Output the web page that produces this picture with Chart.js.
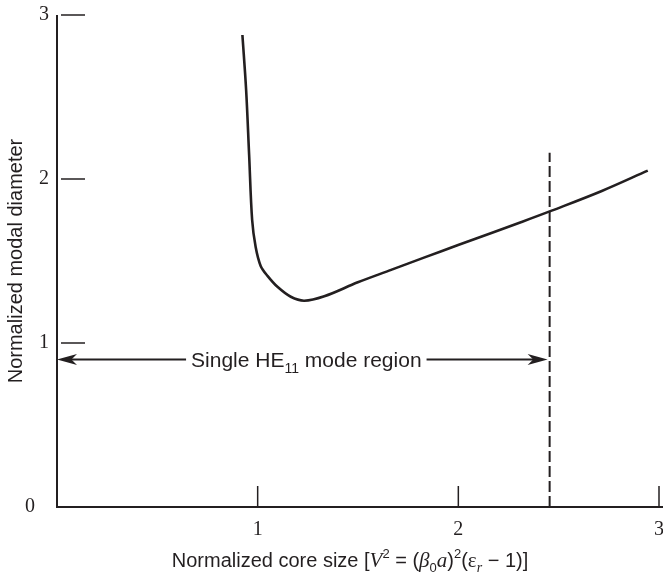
<!DOCTYPE html>
<html>
<head>
<meta charset="utf-8">
<script src="https://cdn.jsdelivr.net/npm/chart.js@4.4.0/dist/chart.umd.min.js"></script>
<style>
  html, body { margin: 0; padding: 0; background: #fff; }
  #wrap { width: 663px; height: 578px; }
</style>
</head>
<body>
<div id="wrap"><canvas id="chart" width="663" height="578"></canvas></div>
<script>
// modal diameter curve
const curveX = [0.924, 0.9425, 0.9575, 0.9725, 0.990, 1.015, 1.050, 1.100, 1.165, 1.232, 1.332, 1.499, 1.665, 1.832, 1.999, 2.165, 2.315, 2.465, 2.715, 2.944];
const curveY = [2.878, 2.543, 2.146, 1.750, 1.585, 1.470, 1.408, 1.341, 1.282, 1.258, 1.285, 1.370, 1.446, 1.522, 1.597, 1.671, 1.738, 1.807, 1.927, 2.051];

// single-mode cutoff (dashed)
const cutoffX = [2.455, 2.455];
const cutoffY = [0, 2.16];

const xTicks = [1, 2, 3];
const yTicks = [0, 1, 2, 3];

// arrow for the single mode region
const regionY = 0.9;
const regionFrom = 0;
const regionTo = 2.445;
const regionLabel = ['Single HE', '11', ' mode region'];

const yTitle = 'Normalized modal diameter';

const INK = '#231f20';
const SANS = "'Liberation Sans', Arial, sans-serif";
const SERIF = "'Liberation Serif', 'Times New Roman', serif";

// x title has super/subscripts, so draw it in runs
const xTitleRuns = [
  { t: 'Normalized core size [', font: `20px ${SANS}`, dy: 0 },
  { t: 'V', font: `italic 21px ${SERIF}`, dy: 0 },
  { t: '2', font: `13px ${SANS}`, dy: -9 },
  { t: ' = (', font: `20px ${SANS}`, dy: 0 },
  { t: 'β', font: `italic 21px ${SERIF}`, dy: 0 },
  { t: '0', font: `13px ${SANS}`, dy: 5 },
  { t: 'a', font: `italic 21px ${SERIF}`, dy: 0 },
  { t: ')', font: `20px ${SANS}`, dy: 0 },
  { t: '2', font: `13px ${SANS}`, dy: -9 },
  { t: '(', font: `20px ${SANS}`, dy: 0 },
  { t: 'ε', font: `21px ${SERIF}`, dy: 0 },
  { t: 'r', font: `italic 14px ${SERIF}`, dy: 5 },
  { t: ' − 1)]', font: `20px ${SANS}`, dy: 0 }
];

function drawRuns(ctx, runs, cx, base) {
  let total = 0;
  runs.forEach(r => { ctx.font = r.font; r.w = ctx.measureText(r.t).width; total += r.w; });
  let px = cx - total / 2;
  ctx.textAlign = 'left';
  ctx.textBaseline = 'alphabetic';
  runs.forEach(r => { ctx.font = r.font; ctx.fillText(r.t, px, base + r.dy); px += r.w; });
}

function arrowHead(ctx, tipX, tipY, dir) {
  const L = 20, H = 5.5;
  ctx.beginPath();
  ctx.moveTo(tipX, tipY);
  ctx.lineTo(tipX - dir * L, tipY - H);
  ctx.lineTo(tipX - dir * L * 0.72, tipY);
  ctx.lineTo(tipX - dir * L, tipY + H);
  ctx.closePath();
  ctx.fill();
}

const decor = {
  id: 'decor',
  afterDatasetsDraw(chart) {
    const { ctx, chartArea: a, scales: { x, y } } = chart;
    ctx.save();
    ctx.strokeStyle = INK;
    ctx.fillStyle = INK;

    // axis lines
    ctx.lineWidth = 2;
    ctx.beginPath();
    ctx.moveTo(a.left, y.getPixelForValue(3));
    ctx.lineTo(a.left, a.bottom);
    ctx.lineTo(a.right + 4, a.bottom);
    ctx.stroke();

    // ticks point into the plot
    ctx.lineWidth = 1.5;
    xTicks.forEach(v => {
      const px = x.getPixelForValue(v);
      ctx.beginPath(); ctx.moveTo(px, a.bottom); ctx.lineTo(px, a.bottom - 21); ctx.stroke();
    });
    yTicks.filter(v => v > 0).forEach(v => {
      const py = y.getPixelForValue(v);
      ctx.beginPath(); ctx.moveTo(a.left + 4, py); ctx.lineTo(a.left + 28, py); ctx.stroke();
    });

    // region arrow + label
    const ay = y.getPixelForValue(regionY);
    const ax0 = x.getPixelForValue(regionFrom);
    const ax1 = x.getPixelForValue(regionTo);
    const fMain = `21px ${SANS}`, fSub = `14px ${SANS}`;
    ctx.font = fMain; const w1 = ctx.measureText(regionLabel[0]).width;
    ctx.font = fSub; const w2 = ctx.measureText(regionLabel[1]).width;
    ctx.font = fMain; const w3 = ctx.measureText(regionLabel[2]).width;
    const tw = w1 + w2 + w3;
    const tx = (ax0 + ax1) / 2 + 4 - tw / 2;
    const base = ay + 7.5;
    ctx.textAlign = 'left';
    ctx.textBaseline = 'alphabetic';
    ctx.font = fMain; ctx.fillText(regionLabel[0], tx, base);
    ctx.font = fSub; ctx.fillText(regionLabel[1], tx + w1, base + 6);
    ctx.font = fMain; ctx.fillText(regionLabel[2], tx + w1 + w2, base);

    ctx.lineWidth = 2;
    ctx.beginPath();
    ctx.moveTo(ax0 + 10, ay); ctx.lineTo(tx - 5, ay);
    ctx.moveTo(tx + tw + 5, ay); ctx.lineTo(ax1 - 10, ay);
    ctx.stroke();
    arrowHead(ctx, ax0, ay, -1);
    arrowHead(ctx, ax1, ay, 1);

    // x title
    drawRuns(ctx, xTitleRuns, (a.left + a.right) / 2 - 8, 567);
    ctx.restore();
  }
};

new Chart(document.getElementById('chart'), {
  type: 'scatter',
  data: {
    datasets: [
      {
        data: curveX.map((v, i) => ({ x: v, y: curveY[i] })),
        showLine: true,
        borderColor: INK,
        borderWidth: 2.6,
        pointRadius: 0,
        tension: 0.35
      },
      {
        data: cutoffX.map((v, i) => ({ x: v, y: cutoffY[i] })),
        showLine: true,
        borderColor: INK,
        borderWidth: 2,
        borderDash: [11, 4],
        pointRadius: 0
      }
    ]
  },
  options: {
    responsive: false,
    animation: false,
    devicePixelRatio: 1,
    layout: { padding: { top: 15, right: 4, left: 0, bottom: 0 } },
    plugins: { legend: { display: false }, tooltip: { enabled: false } },
    scales: {
      x: {
        type: 'linear', min: 0, max: 3,
        afterBuildTicks: s => { s.ticks = [0, ...xTicks].map(v => ({ value: v })); },
        ticks: {
          callback: v => (v === 0 ? '' : String(v)),
          color: INK, padding: 11, maxRotation: 0,
          font: { family: SERIF, size: 20 }
        },
        grid: { display: false, drawTicks: false },
        border: { display: false },
        afterFit: s => { s.height = 71; s.paddingLeft = 0; s.paddingRight = 0; }
      },
      y: {
        type: 'linear', min: 0, max: 3,
        afterBuildTicks: s => { s.ticks = yTicks.map(v => ({ value: v })); },
        ticks: {
          callback: v => (v === 0 ? '0\u2002\u2009' : String(v)),
          color: INK, padding: 8,
          font: { family: SERIF, size: 20 }
        },
        grid: { display: false, drawTicks: false },
        border: { display: false },
        title: {
          display: true, text: yTitle, color: INK,
          font: { family: SANS, size: 20 },
          padding: { top: 4, bottom: 0 }
        },
        afterFit: s => { s.width = 57; s.paddingTop = 0; s.paddingBottom = 0; }
      }
    }
  },
  plugins: [decor]
});
</script>
</body>
</html>
